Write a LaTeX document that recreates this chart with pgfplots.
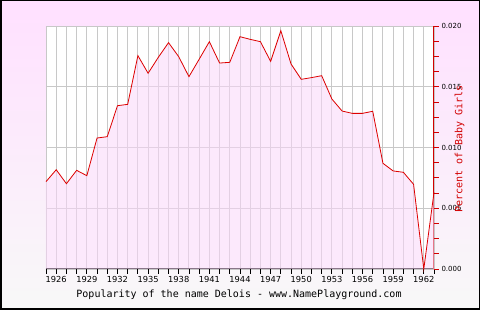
\documentclass[border=0pt]{standalone}
\usepackage{pgfplots}
\pgfplotsset{compat=1.18}
\usepackage{pgfplotstable}
\usepackage{fontspec}
\setmainfont{DejaVu Sans}
\newfontfamily\monof{DejaVu Sans Mono}
\definecolor{bgtop}{RGB}{255,224,255}
\definecolor{bgbot}{RGB}{248,248,248}
\definecolor{linered}{RGB}{221,0,0}
\definecolor{axred}{RGB}{210,0,0}
\definecolor{fillpink}{RGB}{250,215,250}
\definecolor{gridgray}{RGB}{200,200,200}

\pgfplotstableread{
year value
1925 0.00719
1926 0.00817
1927 0.00702
1928 0.00812
1929 0.00768
1930 0.01078
1931 0.01089
1932 0.01344
1933 0.01355
1934 0.01756
1935 0.01611
1936 0.01742
1937 0.01863
1938 0.01747
1939 0.01583
1940 0.01726
1941 0.01871
1942 0.01695
1943 0.01701
1944 0.01912
1945 0.01890
1946 0.01871
1947 0.01709
1948 0.01961
1949 0.01687
1950 0.01561
1951 0.01575
1952 0.01591
1953 0.01399
1954 0.01300
1955 0.01281
1956 0.01281
1957 0.01298
1958 0.00870
1959 0.00807
1960 0.00796
1961 0.00697
1962 0.00000
1963 0.00630
}\datatable

\begin{document}
\begin{tikzpicture}[x=1pt,y=1pt]
\shade[top color=bgtop, bottom color=bgbot] (0,0) rectangle (480,310);
\begin{axis}[
  at={(46pt,41pt)}, anchor=south west,
  scale only axis, width=388pt, height=243pt,
  axis background/.style={fill=white},
  xmin=1925, xmax=1963, ymin=0, ymax=0.02,
  axis x line*=bottom, axis y line*=right,
  x axis line style={black, line width=1pt, -},
  y axis line style={axred, line width=1pt, -},
  xtick={1926,1929,...,1962},
  minor xtick={1925,...,1963},
  ytick={0,0.005,0.01,0.015,0.02},
  minor y tick num=3,
  tick align=outside,
  major tick length=5pt, minor tick length=5pt,
  xtick style={black, line width=0.8pt},
  ytick style={axred, line width=0.8pt},
  xmajorgrids, xminorgrids, ymajorgrids,
  major grid style={gridgray, line width=0.9pt},
  minor grid style={gridgray, line width=0.9pt},
  /pgf/number format/assume math mode=true,
  xticklabel style={font=\fontsize{8.3}{9}\selectfont, /pgf/number format/set thousands separator={}, yshift=1pt},
  yticklabel style={font=\fontsize{7}{8}\selectfont, /pgf/number format/fixed, /pgf/number format/fixed zerofill, /pgf/number format/precision=3, xshift=-1pt},
  scaled y ticks=false,
  clip=false,
]
\addplot[draw=none, fill=fillpink, fill opacity=0.55] table[x=year, y=value] {\datatable} \closedcycle;
\addplot[linered, line width=0.8pt, mark=none] table[x=year, y=value] {\datatable};
\end{axis}
\node[font=\monof\fontsize{10}{12}\selectfont] at (239,15.7) {Popularity of the name Delois - www.NamePlayground.com};
\node[rotate=90, text=axred, font=\monof\fontsize{10}{12}\selectfont] at (459.5,161) {Percent of Baby Girls};
\draw[black, line width=1.5pt] (0.75,0.75) rectangle (479.25,309.25);
\pgfresetboundingbox
\path (0,0) rectangle (480,310);
\end{tikzpicture}
\end{document}
